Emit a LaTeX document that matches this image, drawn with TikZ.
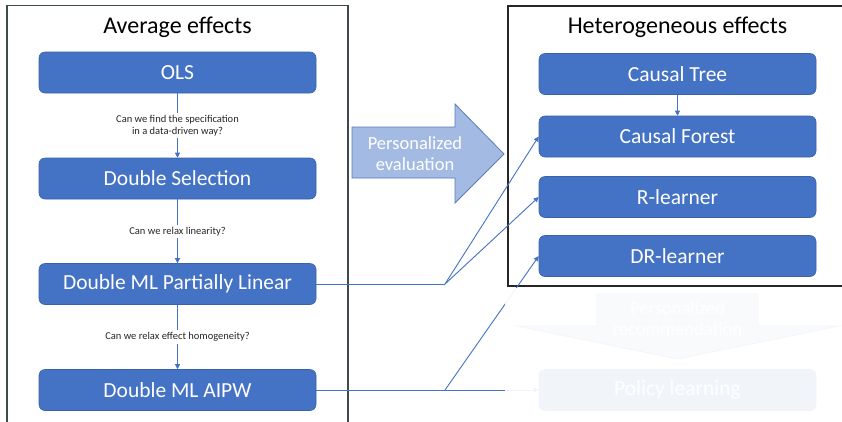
\documentclass[tikz,border=0pt]{standalone}
\usepackage{fontspec}
\setmainfont{Carlito}
\usetikzlibrary{arrows.meta}
\definecolor{boxblue}{HTML}{4472C4}
\definecolor{boxedge}{HTML}{3A62AA}
\definecolor{arrowfill}{HTML}{A3BBE2}
\definecolor{arrowedge}{HTML}{5A7CBB}
\definecolor{leftframe}{HTML}{3E4B4B}
\tikzset{
  method/.style={draw=boxedge, line width=0.6pt, fill=boxblue, rounded corners=6pt,
    minimum width=277pt, minimum height=41pt, inner sep=0pt, text=white,
    font=\fontsize{21.5}{25}\selectfont},
  heading/.style={font=\fontsize{24}{28}\selectfont, text=black, inner sep=0pt},
  question/.style={fill=white, font=\fontsize{10.5}{12.5}\selectfont, align=center, inner sep=2pt, text=black!85},
  link/.style={draw=boxblue, line width=0.9pt},
  linkarrow/.style={link, -{Triangle[width=5pt,length=5pt]}},
  bigarrow/.style={fill=arrowfill, draw=arrowedge, line width=0.8pt, line join=miter},
  arrowtext/.style={text=white, font=\fontsize{18.5}{21}\selectfont, align=center, inner sep=0pt}
}
\begin{document}
\begin{tikzpicture}[x=1pt, y=-1pt]
\useasboundingbox (0,0) rectangle (842,421);
\fill[white] (0,0) rectangle (842,421);

% frames
\draw[leftframe, line width=1.4pt] (7,430) -- (7,5.5) -- (348,5.5) -- (348,430);
\draw[black!85, line width=1.4pt] (850,286) -- (508,286) -- (508,6) -- (850,6);

% headings
\node[heading] (avg) at (177.5,27) {Average effects};
\node[heading] (het) at (677.5,27) {Heterogeneous effects};

% average-effect methods
\node[method] (ols)  at (177.5,72.5)  {OLS};
\node[method] (ds)   at (177.5,178.5) {Double Selection};
\node[method] (pl)   at (177.5,284)   {Double ML Partially Linear};
\node[method] (aipw) at (177.5,390)   {Double ML AIPW};

\draw[linkarrow] (ols) -- node[question] (q1) {Can we find the specification\\in a data-driven way?} (ds);
\draw[linkarrow] (ds) -- node[question] (q2) {Can we relax linearity?} (pl);
\draw[linkarrow] (pl) -- node[question] (q3) {Can we relax effect homogeneity?} (aipw);

% heterogeneous-effect methods
\node[method] (ct) at (677.5,74)    {Causal Tree};
\node[method] (cf) at (677.5,136.5) {Causal Forest};
\node[method] (rl) at (677.5,197)   {R-learner};
\node[method] (dr) at (677.5,256)   {DR-learner};
\draw[linkarrow] (ct) -- (cf);

% personalized evaluation arrow
\draw[bigarrow] (352,127) -- (455,127) -- (455,104) -- (504,154) -- (455,203) -- (455,178) -- (352,178) -- cycle;
\node[arrowtext] (pe) at (415,154) {Personalized\\evaluation};

% personalized recommendation arrow and policy learning
\draw[bigarrow] (597,294) -- (758,294) -- (758,326) -- (839,326) -- (677.5,359) -- (517,326) -- (597,326) -- cycle;
\node[arrowtext] (pr) at (677.5,319) {Personalized\\recommendation};
\node[method] (pol) at (677.5,390) {Policy learning};

% links from average to heterogeneous methods
\coordinate (j1) at (445,284);
\coordinate (j2) at (445,390);
\draw[link] (pl.east) -- (j1);
\draw[linkarrow] (j1) -- (cf.west);
\draw[linkarrow] (j1) -- (rl.west);
\draw[link] (aipw.east) -- (j2);
\draw[linkarrow] (j2) -- (dr.west);
\draw[linkarrow] (j2) -- (pol.west);

% faded lower-right region
\fill[white, opacity=0.93] (505,288) rectangle (842,421);
\end{tikzpicture}
\end{document}
